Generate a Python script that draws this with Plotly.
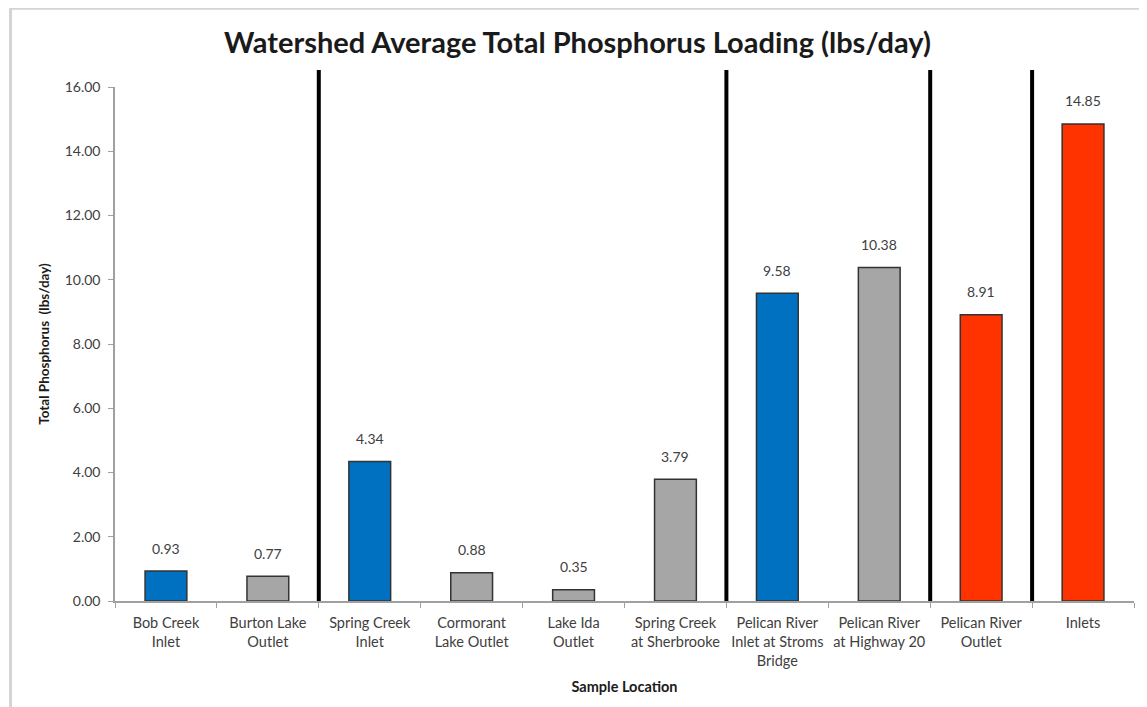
import plotly.graph_objects as go

locations = [
    "Bob Creek<br>Inlet", "Burton Lake<br>Outlet", "Spring Creek<br>Inlet",
    "Cormorant<br>Lake Outlet", "Lake Ida<br>Outlet", "Spring Creek<br>at Sherbrooke",
    "Pelican River<br>Inlet at Stroms<br>Bridge", "Pelican River<br>at Highway 20",
    "Pelican River<br>Outlet", "Inlets",
]
loading = [0.93, 0.77, 4.34, 0.88, 0.35, 3.79, 9.58, 10.38, 8.91, 14.85]
groups = ["inlet", "other", "inlet", "other", "other", "other", "inlet", "other", "outlet", "outlet"]
separators = [1.5, 5.5, 7.5, 8.5]  # between category slots

GROUP_COLORS = {"inlet": "#0070C0", "other": "#A6A6A6", "outlet": "#FF3300"}
FONT = "Lato"
TEXT = "#404040"

fig = go.Figure(go.Bar(
    x=locations, y=loading, width=0.41,
    marker=dict(color=[GROUP_COLORS[g] for g in groups],
                line=dict(color="#333333", width=1.5)),
    hoverinfo="x+y"))

# value labels floating above each bar
for loc, v in zip(locations, loading):
    fig.add_annotation(x=loc, y=v, text=f"{v:.2f}", showarrow=False, yshift=23,
                       font=dict(family=FONT, size=14, color=TEXT))

# heavy black dividers between groups of sites (paper x so they can poke above the axis)
n = len(locations)
for s in separators:
    fig.add_shape(type="line", xref="paper", yref="paper",
                  x0=(s + 0.5) / n, x1=(s + 0.5) / n, y0=0, y1=1.033,
                  line=dict(color="black", width=4))

# chart border (Excel style), cut off at right/bottom like the original
fig.add_shape(type="rect", xref="paper", yref="paper", x0=-0.1025, x1=1.1, y0=-0.4, y1=1.153,
              line=dict(color="#d4d4d4", width=3))

fig.update_layout(
    title=dict(text="<b>Watershed Average Total Phosphorus Loading (lbs/day)</b>",
               x=0.5, xref="container", y=0.95, yanchor="middle",
               font=dict(family=FONT, size=29, color="#1a1a1a")),
    font=dict(family=FONT, color=TEXT),
    width=1139, height=699,
    margin=dict(l=107, r=13, t=79, b=106),
    paper_bgcolor="white", plot_bgcolor="white",
    showlegend=False,
    xaxis=dict(title=dict(text="<b>Sample Location</b>", font=dict(size=14.5, color="#1a1a1a"),
                          standoff=14),
               showline=True, linecolor="#a0a0a0", linewidth=1.5,
               ticks="outside", tickson="boundaries", ticklen=5, tickcolor="#a0a0a0",
               tickfont=dict(size=14.5, color=TEXT), tickangle=0, ticklabelstandoff=8,
               range=[-0.5, 9.5]),
    yaxis=dict(title=dict(text="<b>Total Phosphorus  (lbs/day)</b>",
                          font=dict(size=13.5, color="#1a1a1a"), standoff=12),
               range=[0, 16], dtick=2, tickformat=".2f", showgrid=False, zeroline=False,
               showline=True, linecolor="#a0a0a0", linewidth=1.5,
               ticks="outside", ticklen=5, tickcolor="#a0a0a0", ticklabelstandoff=5,
               tickfont=dict(size=14, color=TEXT)),
)

fig.write_html("out.html")
